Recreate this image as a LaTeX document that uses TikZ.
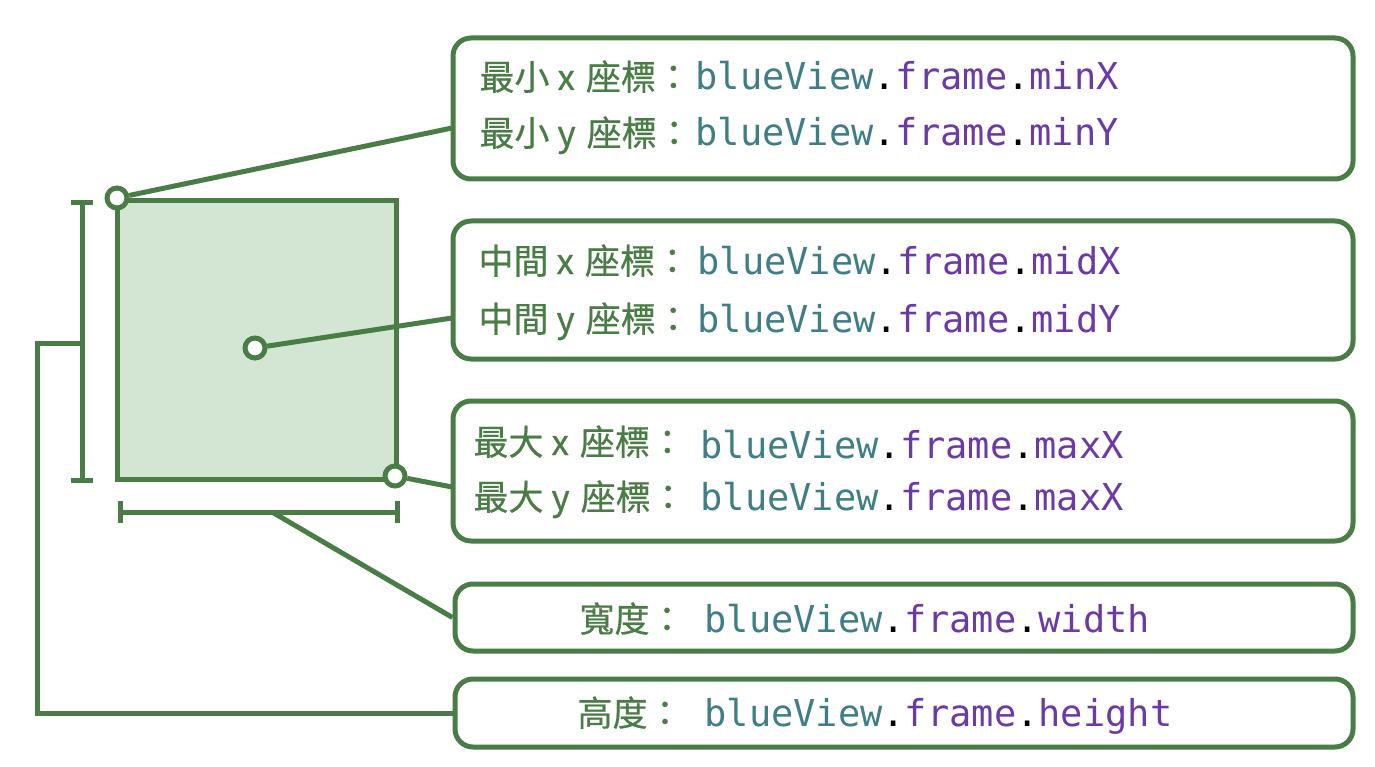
\documentclass[tikz,border=0pt]{standalone}
\usepackage{fontspec}
\setmonofont{DejaVu Sans Mono}
\newfontfamily\cjk[FakeBold=0.6]{Noto Sans CJK TC}

\definecolor{viewgreen}{HTML}{4A7C45}
\definecolor{viewfill}{HTML}{D2E6D3}
\definecolor{codeteal}{HTML}{3F7E86}
\definecolor{codepurple}{HTML}{6C3AA6}

\newcommand{\frameprop}[1]{{\color{codeteal}blueView\color{black}.\color{codepurple}frame\color{black}.\color{codepurple}#1}}
\newcommand{\axislab}[2]{#1\hspace{8pt}#2\hspace{11pt}座標：}

\begin{document}
\begin{tikzpicture}[x = 1pt, y = -1pt, line width = 5pt, draw = viewgreen,
                        infobox/.style = {draw = viewgreen, rounded corners = 18pt, minimum width = 900, inner sep = 0},
                        handle/.style = {circle, draw = viewgreen, fill = white, minimum size = 20, inner sep = 0},
                        lab/.style = {anchor = base west, inner sep = 0, text = viewgreen, font = \cjk\fontsize{35}{40}\selectfont},
                        prop/.style = {anchor = base west, inner sep = 0, font = \ttfamily\fontsize{37}{44}\selectfont}]
      \useasboundingbox (0, 0) rectangle (1375, 767);
      % the view itself
      \node [draw = viewgreen, fill = viewfill, minimum size = 279, inner sep = 0] (view) at (257, 340){};

      % info boxes
      \node [infobox, minimum height = 141] (minbox) at (903, 108.5){};
      \node [infobox, minimum height = 138] (midbox) at (903, 290){};
      \node [infobox, minimum height = 140] (maxbox) at (903, 471){};
      \node [infobox, minimum width = 898, minimum height = 67] (wbox) at (904, 617.5){};
      \node [infobox, minimum width = 898, minimum height = 68] (hbox) at (904, 713){};

      \node [lab] (minxl) at (477, 90){\axislab{最小}{x}};
      \node [prop] (minxp) at (693, 90){\frameprop{minX}};
      \node [lab] (minyl) at (477, 146){\axislab{最小}{y}};
      \node [prop] (minyp) at (693, 146){\frameprop{minY}};
      \node [lab] (midxl) at (476, 274){\axislab{中間}{x}};
      \node [prop] (midxp) at (695, 274){\frameprop{midX}};
      \node [lab] (midyl) at (476, 332){\axislab{中間}{y}};
      \node [prop] (midyp) at (695, 332){\frameprop{midY}};
      \node [lab] (maxxl) at (471, 455){\axislab{最大}{x}};
      \node [prop] (maxxp) at (698, 458){\frameprop{maxX}};
      \node [lab] (maxyl) at (471, 510){\axislab{最大}{y}};
      \node [prop] (maxyp) at (698, 510){\frameprop{maxX}};
      \node [lab] (wl) at (577, 632){寬度：};
      \node [prop] (wp) at (702, 632){\frameprop{width}};
      \node [lab] (hl) at (575, 726){高度：};
      \node [prop] (hp) at (702, 726){\frameprop{height}};

      % points on the view
      \node [handle] (pmin) at (117, 198){};
      \node [handle] (pmid) at (255, 348){};
      \node [handle] (pmax) at (395, 476){};
      \coordinate (minend) at (452, 128);
      \coordinate (midend) at (452, 318);
      \coordinate (maxend) at (452, 487);
      \draw (pmin) -- (minend);
      \draw (pmid) -- (midend);
      \draw (pmax) -- (maxend);

      % height bracket
      \coordinate (htop) at (82, 203);
      \coordinate (hbot) at (82, 480);
      \coordinate (hmid) at (82, 343);
      \draw (htop) -- (hbot);
      \draw ([xshift = -11pt]htop) -- ([xshift = 11pt]htop);
      \draw ([xshift = -11pt]hbot) -- ([xshift = 11pt]hbot);
      \draw (hmid) -- ++(-45, 0) |- (hbox.west);

      % width bracket
      \coordinate (wleft) at (120, 512);
      \coordinate (wright) at (397, 512);
      \coordinate (wmid) at (272, 512);
      \draw (wleft) -- (wright);
      \draw ([yshift = -11pt]wleft) -- ([yshift = 11pt]wleft);
      \draw ([yshift = -11pt]wright) -- ([yshift = 11pt]wright);
      \draw (wmid) -- (wbox.west);
    \end{tikzpicture}
\end{document}
